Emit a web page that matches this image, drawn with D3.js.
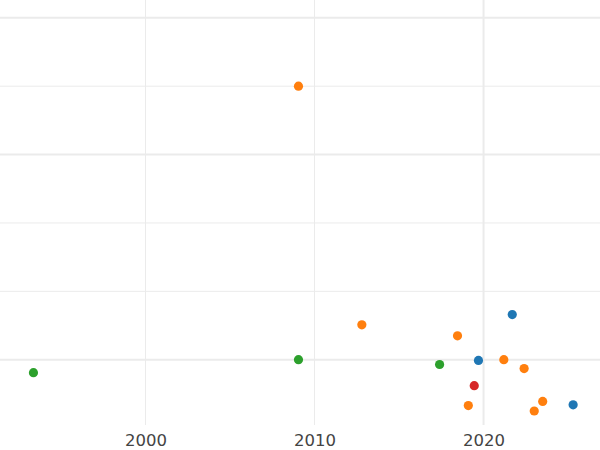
<!DOCTYPE html>
<html><head><meta charset="utf-8">
<script src="https://cdn.jsdelivr.net/npm/d3@7"></script>
<style>body{margin:0;background:#fff}</style></head>
<body><svg id="c" width="600" height="450"></svg>
<script>
const xTicks = [2000, 2010, 2020];
const yGrid = [1, 2, 3, 4, 5, 6];
const yMajor = [1, 4, 6];
const years = [1993.37, 2009.05, 2017.4, 2009.05, 2012.8, 2018.46, 2021.2, 2022.4, 2019.1, 2023.5, 2023.0, 2021.7, 2019.7, 2025.3, 2019.45];
const values = [0.81, 1.0, 0.93, 5.0, 1.51, 1.35, 1.0, 0.87, 0.33, 0.39, 0.25, 1.66, 0.99, 0.34, 0.62];
const groups = ["g","g","g","o","o","o","o","o","o","o","o","b","b","b","r"];
const colorMap = {b:"#1f77b4", o:"#ff7f0e", g:"#2ca02c", r:"#d62728"};

const svg = d3.select("#c");
const x = d3.scaleLinear().domain([1991.42, 2026.92]).range([0.5, 600.5]);
const y = d3.scaleLinear().domain([0.035, 6.25]).range([425.7, 0.7]);

svg.append("g").selectAll("line").data(yGrid).join("line")
  .attr("x1", 0).attr("x2", 600).attr("y1", d => y(d)).attr("y2", d => y(d))
  .attr("stroke", "#ebebeb").attr("stroke-width", d => yMajor.includes(d) ? 2 : 1);
svg.append("g").selectAll("line").data(xTicks).join("line")
  .attr("y1", 0).attr("y2", 425).attr("x1", d => x(d)).attr("x2", d => x(d))
  .attr("stroke", "#ebebeb").attr("stroke-width", d => d === 2020 ? 2 : 1);

const ax = svg.append("g").attr("transform", "translate(0,425)")
  .call(d3.axisBottom(x).tickValues(xTicks).tickFormat(d3.format("d")).tickSize(0).tickPadding(9));
ax.select(".domain").remove();
ax.selectAll("text").attr("font-family", "DejaVu Sans, sans-serif").attr("font-size", 16.5).attr("fill", "#444");

svg.append("g").selectAll("circle").data(years).join("circle")
  .attr("cx", d => x(d)).attr("cy", (d, i) => y(values[i])).attr("r", 4.6)
  .attr("fill", (d, i) => colorMap[groups[i]]);
</script></body></html>
